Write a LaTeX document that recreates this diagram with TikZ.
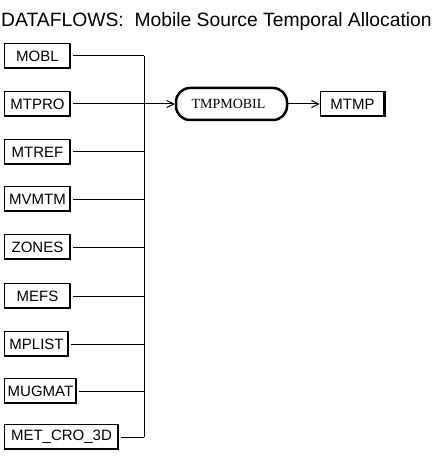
\documentclass[tikz,border=0pt]{standalone}
\usepackage{fontspec}
\setmainfont{Liberation Sans}
\newfontfamily\procfont{Liberation Serif}
\usetikzlibrary{arrows.meta}
\tikzset{
  filebox/.style={draw, line width=1pt, minimum height=25pt, inner sep=0pt, anchor=west,
    font=\fontsize{15pt}{17pt}\selectfont},
  procbox/.style={draw, line width=2.5pt, rounded corners=14pt, minimum width=111pt,
    minimum height=32pt, inner sep=0pt, font=\procfont\fontsize{14pt}{15pt}\selectfont},
  flow/.style={line width=1pt},
  arr/.style={flow, -{Straight Barb[length=7pt,width=7pt]}},
}
\newcommand{\shadowbox}[1]{%
  \draw[line width=2.5pt] ([xshift=-1.2pt]#1.north east) -- ([xshift=-1.2pt,yshift=1.2pt]#1.south east)
    -- ([yshift=1.2pt]#1.south west);}
\begin{document}
\begin{tikzpicture}[x=1pt,y=-1pt]
\useasboundingbox (0,0) rectangle (445,457);
\node[anchor=base west, font=\fontsize{19.3pt}{21pt}\selectfont, inner sep=0pt] (title) at (1,26.5)
  {DATAFLOWS:\ \ Mobile Source Temporal Allocation};
\foreach \n/\t/\y/\w in {mobl/MOBL/56/66, mtpro/MTPRO/104/66, mtref/MTREF/152/66,
  mvmtm/MVMTM/199/66, zones/ZONES/247/66, mefs/MEFS/296/66, mplist/MPLIST/344/64,
  mugmat/MUGMAT/391/72, metcro/MET\_CRO\_3D/437/114}{
  \node[filebox, minimum width=\w pt] (\n) at (4,\y) {\t};
  \shadowbox{\n}
}
\coordinate (bustop) at (144,56);
\coordinate (busbot) at (144,437);
\draw[flow] (bustop) -- (busbot);
\foreach \n in {mobl,mtref,mvmtm,zones,mefs,mplist,mugmat,metcro}{
  \draw[flow] ([xshift=2pt]\n.east) -- (\n.east -| bustop);
}
\node[procbox] (tmp) at (231.5,104) {\hspace{-6pt}TMPMOBIL};
\node[filebox, minimum width=65pt, anchor=center] (mtmp) at (352.5,104) {MTMP};
\shadowbox{mtmp}
\draw[arr] ([xshift=2pt]mtpro.east) -- (tmp.west);
\draw[arr] (tmp.east) -- (mtmp.west);
\end{tikzpicture}
\end{document}
